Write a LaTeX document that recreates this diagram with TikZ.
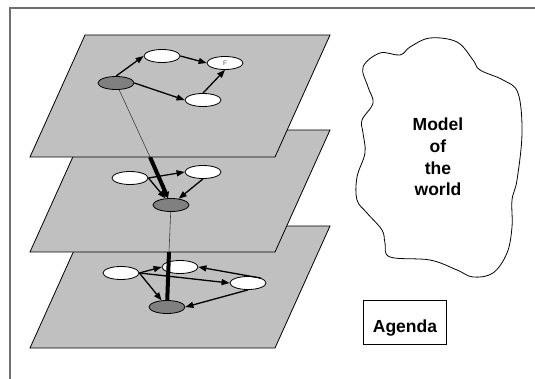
\documentclass[tikz,border=0pt]{standalone}
\usepackage{fontspec}
\setmainfont{Liberation Sans}
\usetikzlibrary{shapes.geometric,arrows.meta}
\definecolor{planegray}{HTML}{C0C0C0}
\definecolor{nodegray}{HTML}{808080}
\definecolor{framegray}{HTML}{707070}
\definecolor{linkgray}{HTML}{404040}
\definecolor{labelgray}{HTML}{555555}
\begin{document}
\begin{tikzpicture}[x=1pt,y=-1pt,
  plane/.style={fill=planegray,draw=black,line width=0.8pt},
  wnode/.style={ellipse,draw=black,fill=white,line width=0.8pt,minimum width=36pt,minimum height=13pt,inner sep=0pt},
  dnode/.style={wnode,fill=nodegray},
  arr/.style={-{Triangle[length=8pt,width=6pt]},line width=1.3pt},
  thinlink/.style={draw=linkgray,line width=0.6pt},
  thicklink/.style={line width=4pt},
  thickarr/.style={thicklink,-{Triangle[length=6pt,width=7pt]}},
  bigtext/.style={font=\fontsize{17.5}{21.8}\selectfont\bfseries},
]
\useasboundingbox (0,0) rectangle (535,379);
% frame
\draw[framegray,line width=1.5pt] (10,379) -- (10,8) -- (535,8);

% bottom plane
\draw[plane] (85,226) -- (330,226) -- (275,348) -- (30,348) -- cycle;
\node[wnode] (bL) at (121,273) {};
\node[wnode] (bM) at (180,267) {};
\node[wnode] (bR) at (248,283) {};
\node[dnode] (bD) at (167,307) {};
\draw[arr] (bL.east) -- (bM.west);
\draw[arr] (bL.east) -- (bR.west);
\draw[arr] (bL.east) -- (bD);
\draw[arr] (bR.north east) -- (bM.east);
\draw[arr] (bR.south) -- (bD.east);
\coordinate (c2) at (169,252);
\draw[thicklink] (c2) -- (bD);

% middle plane
\draw[plane] (85,130) -- (330,130) -- (275,252) -- (30,252) -- cycle;
\node[wnode] (mL) at (130,178) {};
\node[wnode] (mR) at (203,172) {};
\node[dnode] (mD) at (171,205) {};
\draw[arr] (mL.east) -- (mR.west);
\draw[arr] (mL.east) -- (mD);
\draw[arr] (mR.south) -- (mD);
\draw[thinlink] (mD) -- (c2);
\coordinate (c1) at (150,157);
\draw[thickarr] (c1) -- (mD);

% top plane
\draw[plane] (85,35) -- (330,35) -- (275,157) -- (30,157) -- cycle;
\node[dnode] (tD) at (116,83) {};
\node[wnode] (tA) at (162,56) {};
\node[wnode] (tF) at (225,63) {\textcolor{labelgray}{\fontsize{6.5}{7}\selectfont F}};
\node[wnode] (tB) at (203,100) {};
\draw[arr] (tD.north) -- (tA.west);
\draw[arr] (tA.east) -- (tF.west);
\draw[arr] (tD.east) -- (tB.west);
\draw[arr] (tB.north) -- (tF.south);
\draw[thinlink] (tD) -- (c1);

% cloud
\draw[line width=0.8pt] plot[smooth cycle,tension=0.6] coordinates {
 (363,67) (380,53) (400,55) (410,47) (430,38) (457,42) (473,60) (480,70)
 (503,80) (518,93) (522,133) (517,180) (512,200) (512,227) (507,253)
 (493,273) (473,277) (457,270) (430,260) (390,257) (385,243) (382,230)
 (367,213) (357,200) (357,177) (365,153) (363,133) (362,120) (373,103)
 (368,87)};
\node[bigtext,align=center,anchor=base] (model) at (438,196) {Model\\of\\the\\world};

% agenda
\node[draw=black,line width=0.8pt,minimum width=83.4pt,minimum height=44.3pt,inner sep=0pt,
      bigtext,text height=20.2pt,text depth=0pt] (agenda) at (405,322.2) {Agenda};
\end{tikzpicture}
\end{document}
